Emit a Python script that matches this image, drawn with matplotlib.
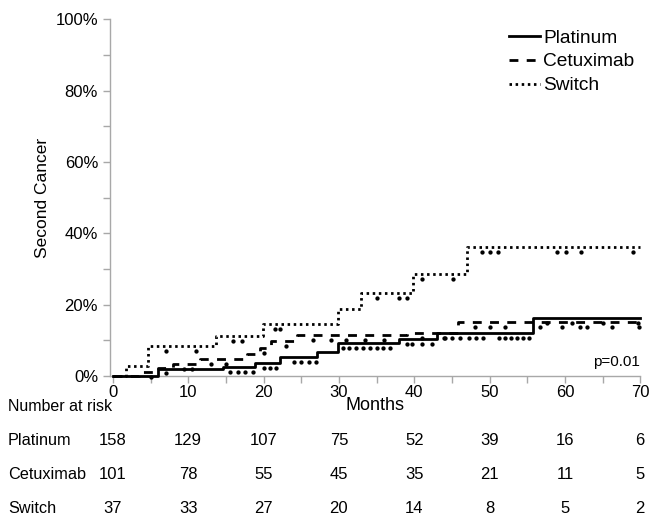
import numpy as np
import matplotlib
matplotlib.use("Agg")
import matplotlib.pyplot as plt
from matplotlib import transforms

plt.rcParams["font.family"] = ["Liberation Sans", "DejaVu Sans"]

# ---------------------------------------------------------------- data
months_max = 70

platinum_t = [0, 6.0, 14.6, 18.9, 22.2, 27.1, 29.9, 38.0, 43.0, 55.8]
platinum_y = [0, 1.9, 2.6, 3.6, 5.3, 6.8, 9.2, 10.5, 12.2, 16.4]
platinum_cens = [15.6, 16.6, 17.6, 18.6, 20.0, 20.8, 21.6, 24.0, 25.0, 26.0,
                 27.0, 30.5, 31.4, 32.3, 33.2, 34.1, 35.0, 35.9, 36.8, 39.0,
                 39.7, 41.0, 42.4, 44.1, 45.0, 46.1, 47.3, 48.2, 49.1, 51.3,
                 52.1, 52.9, 53.7, 54.5, 55.3, 57.6, 61.0, 65.1, 69.7]

cetux_t = [0, 3.5, 6.0, 8.0, 11.5, 17.8, 19.5, 21.0, 24.5, 39.0, 45.8]
cetux_y = [0, 1.2, 2.2, 3.4, 4.8, 6.2, 7.8, 9.8, 11.5, 12.0, 15.2]
cetux_cens = [5.0, 7.0, 9.5, 10.5, 13.0, 15.0, 20.0, 23.0, 26.5, 29.0, 31.0,
              33.5, 36.0, 41.0, 44.0, 48.0, 50.0, 52.0, 56.7, 59.6, 62.0,
              62.9, 66.3, 69.8]

switch_t = [0, 1.7, 4.7, 13.7, 19.9, 29.9, 33.0, 39.8, 47.0]
switch_y = [0, 2.8, 8.4, 11.2, 14.6, 18.8, 23.2, 28.6, 36.1]
switch_cens = [7.0, 11.1, 16.0, 17.1, 21.5, 22.2, 35.0, 38.0, 39.0, 41.0,
               45.2, 49.0, 50.0, 51.1, 59.0, 60.2, 62.1, 69.0]

risk_times = [0, 10, 20, 30, 40, 50, 60, 70]
risk_platinum = [158, 129, 107, 75, 52, 39, 16, 6]
risk_cetux = [101, 78, 55, 45, 35, 21, 11, 5]
risk_switch = [37, 33, 27, 20, 14, 8, 5, 2]

# ---------------------------------------------------------------- figure
fig = plt.figure(figsize=(6.5, 5.16), dpi=100)
ax = fig.add_axes([0.169, 0.271, 0.816, 0.692])

cens_tr = transforms.offset_copy(ax.transData, fig=fig, y=-5, units="dots")

groups = [
    ("Platinum", platinum_t, platinum_y, platinum_cens, "-"),
    ("Cetuximab", cetux_t, cetux_y, cetux_cens, (0, (3.2, 3.0))),
    ("Switch", switch_t, switch_y, switch_cens, (0, (0.9, 1.3))),
]
for name, t, y, cens, ls in groups:
    tt = list(t) + [months_max]
    yy = list(y) + [y[-1]]
    ax.plot(tt, yy, drawstyle="steps-post", color="black", lw=2, ls=ls,
            label=name, clip_on=False, zorder=3)
    idx = np.searchsorted(t, cens, side="right") - 1
    ax.plot(cens, np.asarray(y)[idx], "o", color="black", ms=3.1, mew=0,
            transform=cens_tr, clip_on=False, zorder=3)

ax.set_xlim(-0.4, 70)
ax.set_ylim(0, 100)
ax.set_xticks(range(0, 71, 10))
ax.set_xticks(range(0, 71, 5), minor=True)
ax.set_yticks(range(0, 101, 20))
ax.set_yticks(range(0, 101, 10), minor=True)
ax.set_yticklabels([f"{v}%" for v in range(0, 101, 20)])

for s in ["top", "right"]:
    ax.spines[s].set_visible(False)
for s in ["left", "bottom"]:
    ax.spines[s].set_color("#a8a8a8")
    ax.spines[s].set_linewidth(1)
ax.tick_params(which="both", color="#a8a8a8", width=1, labelsize=12,
               direction="out", length=5)
ax.tick_params(axis="x", pad=1.5)

ax.set_xlabel("Months", fontsize=13)
ax.xaxis.set_label_coords(0.5, -0.058)
ax.set_ylabel("Second Cancer", fontsize=12.5)
ax.yaxis.set_label_coords(-0.112, 0.5)

ax.legend(loc="upper right", bbox_to_anchor=(1.0, 0.988), frameon=False,
          fontsize=13.8, handlelength=1.6, handletextpad=0.18,
          labelspacing=0.34, borderaxespad=0.0, borderpad=0.3)

ax.text(70, 4.0, "p=0.01", ha="right", va="center", fontsize=11)

# ---------------------------------------------------------------- risk table
tr = transforms.blended_transform_factory(ax.transData, fig.transFigure)
fig.text(0.012, 0.213, "Number at risk", ha="left", va="center", fontsize=11.5)
rows = [("Platinum", risk_platinum, 0.147),
        ("Cetuximab", risk_cetux, 0.0795),
        ("Switch", risk_switch, 0.0136)]
for name, vals, yf in rows:
    fig.text(0.012, yf, name, ha="left", va="center", fontsize=11.7)
    for tm, v in zip(risk_times, vals):
        ax.text(tm, yf, str(v), transform=tr, ha="center", va="center",
                fontsize=12, clip_on=False)

fig.savefig("out.png", dpi=100)
